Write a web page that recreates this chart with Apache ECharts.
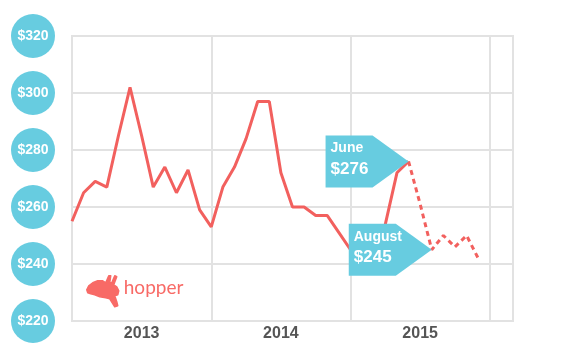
<!DOCTYPE html>
<html><head><meta charset="utf-8">
<script src="https://cdn.jsdelivr.net/npm/echarts@6/dist/echarts.min.js"></script>
<style>html,body{margin:0;padding:0;background:#fff}#c{width:570px;height:356px}</style>
</head><body><div id="c"></div>
<script>
// ---- data ----
const years = ['2013', '2014', '2015', '2016'];
const monthNames = ['Jan','Feb','Mar','Apr','May','Jun','Jul','Aug','Sep','Oct','Nov','Dec'];
const monthsShown = 39; // Jan 2013 .. Mar 2016
const yMin = 220, yMax = 320, yStep = 20;
const prices2013 = [255, 265, 269, 267, 285, 302, 285, 267, 274, 265, 273, 259];
const prices2014 = [253, 267, 274, 284, 297, 297, 272, 260, 260, 257, 257, 251];
const prices2015Actual = [245, 243, 246, 254, 272, 276];          // Jan..Jun 2015
const prices2015Forecast = [276, 261, 245, 250, 246, 250, 242];   // Jun..Dec 2015
const callouts = [
  { month: 'Jun 2015', name: 'June', value: 276 },
  { month: 'Aug 2015', name: 'August', value: 245 }
];

// ---- build ----
const categories = [];
years.forEach(y => monthNames.forEach(m => categories.push(m + ' ' + y)));
categories.length = monthsShown;
const actual = [...prices2013, ...prices2014, ...prices2015Actual];
const forecastStart = categories.indexOf('Jun 2015');
const forecast = new Array(forecastStart).fill(null).concat(prices2015Forecast);

const RED = '#f2605e';
const BLUE = '#67cce0';
const GRID = '#e2e2e2';
const LOGO = '#f86a66';
const FONT = '"Liberation Sans", Arial, sans-serif';

// logo silhouette (leaping rabbit, facing right)
const rabbit = [[0,14],[2,10],[6,7],[11,5],[16,5],[19,7],[22,0],[24,0],[23,7],[25,7],[28,0],[30,1],[27,9],
  [30,11],[32,15],[31,19],[28,20],[30,26],[31,30],[28,31],[23,23],[19,22],[13,21],[8,19],[4,18],[1,17]];

const chart = echarts.init(document.getElementById('c'), null, { renderer: 'canvas' });
chart.setOption({
  animation: false,
  grid: { left: 72, right: 57, top: 36, bottom: 35, show: true, borderColor: GRID, borderWidth: 2, backgroundColor: 'transparent' },
  xAxis: {
    type: 'category', data: categories, boundaryGap: false,
    axisLine: { show: false }, axisTick: { show: false },
    axisLabel: {
      interval: (i) => i % 12 === 6,
      formatter: (v) => v.split(' ')[1],
      color: '#555', fontSize: 16, fontWeight: 'bold', fontFamily: FONT, margin: 5
    },
    splitLine: { show: true, interval: (i) => i % 12 === 0, lineStyle: { color: GRID, width: 2 } }
  },
  yAxis: {
    type: 'value', min: yMin, max: yMax, interval: yStep,
    axisLine: { show: false }, axisTick: { show: false },
    splitLine: { lineStyle: { color: GRID, width: 2 } },
    axisLabel: {
      margin: 17,
      formatter: (v) => '{c|$' + v + '}',
      rich: { c: { width: 44, height: 44, lineHeight: 44, borderRadius: 22, backgroundColor: BLUE,
                   color: '#fff', fontSize: 14, fontWeight: 'bold', fontFamily: FONT, align: 'center' } }
    }
  },
  series: [
    { type: 'line', data: actual, showSymbol: false, silent: true,
      lineStyle: { color: RED, width: 3 }, z: 2 },
    { type: 'line', data: forecast, showSymbol: false, silent: true,
      lineStyle: { color: RED, width: 3, type: [5, 4] }, z: 3,
      markPoint: {
        silent: true, z: 10,
        symbol: 'path://M0,0L47,0L83,26L47,52L0,52Z',
        symbolSize: [83, 52], symbolOffset: [-41.5, 0], symbolKeepAspect: false,
        itemStyle: { color: BLUE },
        label: {
          show: true, position: 'insideLeft', distance: 5, offset: [0, -2],
          formatter: (p) => '{a|' + p.name + '}\n{b|$' + p.value + '}',
          rich: {
            a: { color: '#fff', fontSize: 14, fontWeight: 'bold', fontFamily: FONT, lineHeight: 19 },
            b: { color: '#fff', fontSize: 17, fontWeight: 'bold', fontFamily: FONT, lineHeight: 22 }
          }
        },
        emphasis: { disabled: true },
        data: callouts.map(c => ({ name: c.name, value: c.value, coord: [c.month, c.value] }))
      }
    }
  ],
  graphic: [
    { type: 'group', left: 86, top: 275, silent: true, children: [
      { type: 'polygon', shape: { points: rabbit }, style: { fill: LOGO, stroke: LOGO, lineWidth: 1.5, lineJoin: 'round' } },
      { type: 'text', x: 37, y: 3, style: { text: 'hopper', fill: LOGO, fontSize: 19, fontFamily: '"Lato", sans-serif', fontWeight: 'normal' } }
    ]}
  ]
});
</script>
</body></html>
